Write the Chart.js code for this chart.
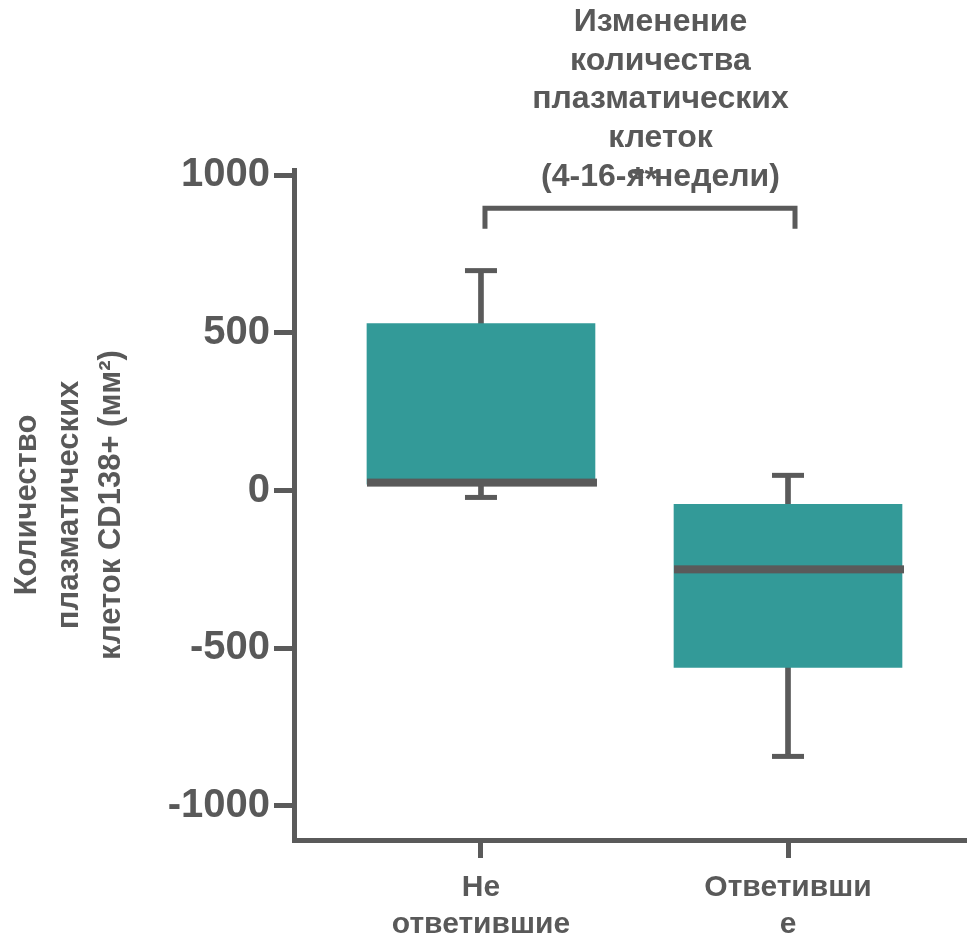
<!DOCTYPE html>
<html>
<head>
<meta charset="utf-8">
<script src="https://cdn.jsdelivr.net/npm/chart.js@4"></script>
<style>
  html, body { margin: 0; padding: 0; background: #ffffff; }
  #wrap { width: 967px; height: 941px; position: relative; }
</style>
</head>
<body>
<div id="wrap"><canvas id="c" width="967" height="941"></canvas></div>
<script>
// ---- data ----
const categories = [['Не', 'ответившие'], ['Ответивши', 'е']];
const categoryIndex = [0, 1];
const boxQ1 = [20, -561];
const boxQ3 = [529, -44];
const boxMedian = [25, -250];
const whiskerMin = [-22, -843];
const whiskerMax = [697, 48];
const yTickValues = [-1000, -500, 0, 500, 1000];
const titleLines = ['Изменение', 'количества', 'плазматических', 'клеток', '(4-16-я недели)'];
const yTitleLines = ['Количество', 'плазматических', 'клеток CD138+ (мм²)'];
const significanceLabel = '**';
const bracketValue = 895;
const bracketEndValue = 830;

// ---- styles ----
const GRAY = '#5a5a5a';
const TEXT = '#595959';
const TEAL = '#339a98';
const FONT = "'Liberation Sans', Arial, Helvetica, sans-serif";

const boxData = categoryIndex.map((x, i) => ({ x: x, y: [boxQ1[i], boxQ3[i]] }));
const whiskerData = categoryIndex.map((x, i) => ({ x: x, y: [whiskerMin[i], whiskerMax[i]] }));

const boxPlugin = {
  id: 'boxExtras',
  afterDatasetsDraw(chart) {
    const ctx = chart.ctx;
    const xs = chart.scales.x, ys = chart.scales.y;
    const boxMeta = chart.getDatasetMeta(0);
    ctx.save();
    ctx.fillStyle = GRAY;
    categoryIndex.forEach((c, i) => {
      const px = xs.getPixelForValue(c);
      // whisker caps
      const capW = 32, capH = 5;
      [whiskerMin[i], whiskerMax[i]].forEach(v => {
        const py = ys.getPixelForValue(v);
        ctx.fillRect(px - capW / 2, py - capH / 2, capW, capH);
      });
      // median
      const bar = boxMeta.data[i];
      const half = bar.width / 2;
      const my = ys.getPixelForValue(boxMedian[i]);
      ctx.fillRect(px - half, my - 4, bar.width + 2, 8);
    });
    // significance bracket
    const x0 = xs.getPixelForValue(categoryIndex[0]) + 4;
    const x1 = xs.getPixelForValue(categoryIndex[1]) + 7;
    const by = ys.getPixelForValue(bracketValue);
    const be = ys.getPixelForValue(bracketEndValue);
    ctx.strokeStyle = GRAY;
    ctx.lineWidth = 5;
    ctx.lineCap = 'butt';
    ctx.lineJoin = 'miter';
    ctx.beginPath();
    ctx.moveTo(x0, be);
    ctx.lineTo(x0, by);
    ctx.lineTo(x1, by);
    ctx.lineTo(x1, be);
    ctx.stroke();
    ctx.restore();
  },
  afterDraw(chart) {
    const ctx = chart.ctx;
    const xs = chart.scales.x, ys = chart.scales.y;
    ctx.save();
    ctx.fillStyle = TEXT;
    ctx.textAlign = 'center';
    ctx.textBaseline = 'middle';
    ctx.font = 'bold 32px ' + FONT;
    const cx = (xs.getPixelForValue(categoryIndex[0]) + xs.getPixelForValue(categoryIndex[1])) / 2 + 26;
    titleLines.forEach((t, k) => {
      ctx.fillText(t, cx, 22 + k * 38.8);
    });
    ctx.font = 'bold 34px ' + FONT;
    ctx.fillText(significanceLabel, cx - 16, ys.getPixelForValue(bracketValue) - 28);
    ctx.restore();
  }
};

new Chart(document.getElementById('c'), {
  type: 'bar',
  data: {
    datasets: [
      { data: boxData, backgroundColor: TEAL, borderWidth: 0, barThickness: 228, grouped: false },
      { data: whiskerData, backgroundColor: GRAY, borderWidth: 0, barThickness: 5, grouped: false }
    ]
  },
  plugins: [boxPlugin],
  options: {
    responsive: false,
    animation: false,
    devicePixelRatio: 1,
    layout: { padding: { top: 170, left: 0, right: 0, bottom: 0 } },
    plugins: { legend: { display: false }, tooltip: { enabled: false }, title: { display: false } },
    scales: {
      x: {
        type: 'linear',
        offset: false,
        min: -0.609,
        max: 1.583,
        afterBuildTicks(scale) { scale.ticks = categoryIndex.map(v => ({ value: v })); },
        afterFit(scale) { scale.height = 101; },
        ticks: {
          callback: (v) => categories[v],
          color: TEXT,
          font: { family: FONT, size: 30, weight: 'bold', lineHeight: 1.23 },
          padding: 11,
          maxRotation: 0,
          autoSkip: false
        },
        grid: { offset: false, drawOnChartArea: false, drawTicks: true, tickLength: 18, lineWidth: 5, color: GRAY },
        border: { display: true, width: 5, color: GRAY }
      },
      y: {
        type: 'linear',
        min: -1108,
        max: 1016,
        afterBuildTicks(scale) { scale.ticks = yTickValues.map(v => ({ value: v })); },
        afterFit(scale) { scale.width = 294; },
        ticks: {
          callback: (v) => String(v),
          color: TEXT,
          font: { family: FONT, size: 40, weight: 'bold' },
          padding: 4
        },
        grid: { drawOnChartArea: false, drawTicks: true, tickLength: 20, lineWidth: 5, color: GRAY },
        border: { display: true, width: 5, color: GRAY },
        title: {
          display: true,
          text: yTitleLines,
          color: TEXT,
          font: { family: FONT, size: 31, weight: 'bold', lineHeight: 1.35 },
          padding: { top: 7, bottom: 0 }
        }
      }
    }
  }
});
</script>
</body>
</html>
